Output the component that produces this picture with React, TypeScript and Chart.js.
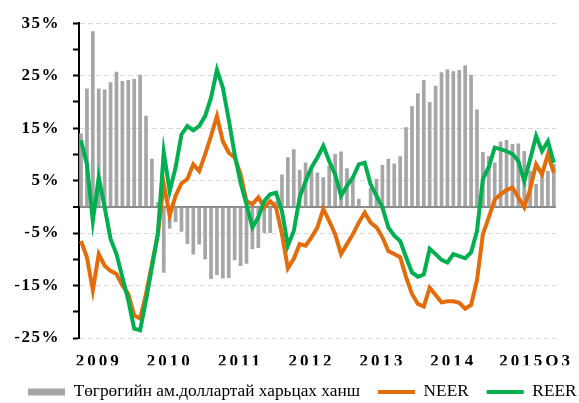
import React, { useEffect, useRef } from 'react';
import { Chart, registerables } from 'chart.js';

Chart.register(...registerables);

// Monthly observations: 2009-01 .. 2015-09
const MONTHS: string[] = [];
for (let y = 2009; y <= 2015; y++) {
  for (let m = 1; m <= 12; m++) {
    if (y === 2015 && m > 9) break;
    MONTHS.push(`${y}-${String(m).padStart(2, '0')}`);
  }
}

// Төгрөгийн ам.доллартай харьцах ханш (y/y, %)
const MNT_USD = [
  13.9, 22.5, 33.4, 22.5, 22.3, 23.7, 25.7, 23.9, 24.1, 24.3, 25.1, 17.3,
  9.1, 0.8, -12.5, -4.1, -2.8, -4.7, -7.0, -9.0, -7.1, -9.9, -13.7, -12.9,
  -13.6, -13.5, -10.1, -11.2, -10.8, -8.0, -7.8, -4.9, -4.9, 1.0, 6.1, 9.4,
  10.9, 7.0, 8.4, 7.3, 6.5, 5.6, 7.8, 10.0, 10.5, 7.3, 5.4, 1.5,
  0, 3.5, 5.3, 7.9, 9.1, 8.2, 9.6, 15.1, 19.1, 21.6, 24.1, 19.9,
  23.0, 25.6, 26.1, 25.8, 26.0, 26.9, 25.1, 18.5, 10.4, 9.6, 8.4, 12.4,
  12.7, 11.9, 12.0, 10.6, 6.8, 4.3, 6.3, 6.8, 8.1,
];

const NEER = [
  -6.5, -9.6, -15.9, -9.0, -11.2, -12.2, -12.8, -15.0, -16.6, -20.7, -21.3, -16.6,
  -10.9, -5.2, 4.4, -1.6, 2.1, 4.5, 5.3, 8.1, 6.8, 10.0, 13.5, 17.3,
  12.5, 10.3, 9.4, 6.2, 1.1, 0.5, 1.8, -0.1, 1.1, -0.1, -5.2, -11.7,
  -9.9, -7.1, -7.4, -5.8, -3.9, -0.4, -2.7, -5.2, -9.0, -7.1, -5.2, -3.0,
  -1.1, -3.0, -3.9, -5.8, -8.4, -9.0, -9.6, -13.4, -16.6, -18.5, -19.0, -15.4,
  -16.8, -18.2, -18.0, -18.0, -18.3, -19.4, -18.7, -14.0, -5.2, -2.0, 1.4, 2.4,
  3.2, 3.7, 1.8, -0.1, 3.4, 8.1, 6.2, 10.0, 6.5,
];

const REER = [
  12.7, 8.1, -2.7, 5.6, -0.1, -6.1, -9.0, -13.4, -17.8, -23.2, -23.5, -17.8,
  -11.5, -5.2, 10.4, 3.0, 7.5, 13.8, 15.4, 14.6, 15.4, 17.3, 20.8, 26.1,
  22.7, 16.6, 10.0, 4.6, 0.5, -3.9, -2.0, 1.1, 2.4, 2.7, -0.8, -7.4,
  -4.6, 1.8, 4.9, 7.5, 9.4, 11.6, 8.7, 6.2, 2.1, 4.0, 5.6, 8.1,
  8.4, 4.3, 2.1, -0.1, -3.9, -5.5, -6.5, -9.6, -12.5, -13.3, -12.9, -8.0,
  -9.0, -10.1, -10.6, -9.0, -9.4, -9.8, -8.7, -4.6, 5.3, 7.6, 11.3, 11.0,
  10.6, 10.1, 8.7, 4.9, 9.1, 13.5, 10.6, 12.5, 8.4,
];

const YEAR_TICK_POS = [3, 15, 27, 39, 51, 63, 77];
const YEAR_LABELS = ['2009', '2010', '2011', '2012', '2013', '2014', '2015Q3'];
const Y_LABELED = [35, 25, 15, 5, -5, -15, -25];

const SERIES_NAMES = ['Төгрөгийн ам.доллартай харьцах ханш', 'NEER', 'REER'];

const FONT = '"Liberation Serif", "Times New Roman", serif';

const spacingPlugin = {
  id: 'labelSpacing',
  afterUpdate(chart: any) {
    const cfg: [string, string][] = [['x', '3px'], ['y', '1.5px']];
    for (const [id, sp] of cfg) {
      const s = chart.scales[id];
      if (s && !s.__spaced) {
        const orig = s.drawLabels.bind(s);
        s.drawLabels = (area: any) => {
          const c = s.ctx;
          const prev = c.letterSpacing;
          c.letterSpacing = sp;
          orig(area);
          c.letterSpacing = prev || '0px';
        };
        s.__spaced = true;
      }
    }
  },
};

export default function App() {
  const ref = useRef<HTMLCanvasElement>(null);

  useEffect(() => {
    const canvas = ref.current;
    if (!canvas) return;
    const toXY = (arr: number[]) => MONTHS.map((_, i) => ({ x: i, y: arr[i] }));

    const chart = new Chart(canvas, {
      type: 'bar',
      data: {
        datasets: [
          {
            type: 'bar',
            label: SERIES_NAMES[0],
            data: toXY(MNT_USD),
            backgroundColor: '#a6a6a6',
            borderWidth: 0,
            barThickness: 3,
            order: 2,
          } as any,
          {
            type: 'line',
            label: SERIES_NAMES[1],
            data: toXY(NEER),
            borderColor: '#e46c0a',
            backgroundColor: '#e46c0a',
            borderWidth: 4,
            pointRadius: 0,
            tension: 0,
            order: 1,
          } as any,
          {
            type: 'line',
            label: SERIES_NAMES[2],
            data: toXY(REER),
            borderColor: '#00b050',
            backgroundColor: '#00b050',
            borderWidth: 4,
            pointRadius: 0,
            tension: 0,
            order: 0,
          } as any,
        ],
      },
      options: {
        responsive: false,
        animation: false,
        layout: { padding: { left: 10, top: 22, right: -30, bottom: -7.6 } },
        plugins: {
          tooltip: { enabled: false },
          legend: {
            position: 'bottom',
            align: 'start',
            labels: {
              usePointStyle: true,
              pointStyleWidth: 37,
              boxHeight: 7,
              padding: 18,
              color: '#000',
              font: { family: FONT, size: 17.3 },
              sort: (a: any, b: any) => a.datasetIndex - b.datasetIndex,
              generateLabels: (ch: any) => {
                const items = (Chart as any).defaults.plugins.legend.labels.generateLabels(ch);
                return items.map((it: any) => ({
                  ...it,
                  pointStyle: it.datasetIndex === 0 ? 'rect' : 'line',
                  lineWidth: it.datasetIndex === 0 ? 0 : 4,
                }));
              },
            },
          },
        },
        scales: {
          x: {
            type: 'linear',
            min: -0.34,
            max: 80.37,
            offset: false,
            afterBuildTicks: (s: any) => {
              s.ticks = YEAR_TICK_POS.map((v) => ({ value: v }));
            },
            afterFit: (s: any) => {
              s.height = 27.25;
            },
            ticks: {
              autoSkip: false,
              maxRotation: 0,
              padding: 13,
              color: '#000',
              font: { family: FONT, size: 17, weight: 'bold' },
              callback: (v: any) => {
                const k = YEAR_TICK_POS.indexOf(Number(v));
                return k >= 0 ? YEAR_LABELS[k] : '';
              },
            },
            grid: { display: false, drawTicks: false, offset: false },
            border: { display: false },
          },
          y: {
            type: 'linear',
            position: 'left',
            min: -25,
            max: 35,
            afterFit: (s: any) => {
              s.width = 69;
            },
            ticks: {
              stepSize: 5,
              autoSkip: false,
              padding: 13,
              color: '#000',
              font: { family: FONT, size: 17, weight: 'bold' },
              callback: (v: any) => (Y_LABELED.includes(Number(v)) ? `${v}%` : ''),
            },
            grid: {
              color: (c: any) => {
                const v = c.tick ? c.tick.value : null;
                if (v === 0) return '#888888';
                if (v !== null && Y_LABELED.includes(v)) return '#d9d9d9';
                return 'rgba(0,0,0,0)';
              },
              lineWidth: (c: any) => (c.tick && c.tick.value === 0 ? 2 : 1),
              drawTicks: true,
              tickLength: 6,
              tickWidth: 2,
              tickColor: '#000',
            },
            border: {
              display: true,
              color: '#000',
              width: 2,
              dash: (c: any) => (c.tick && c.tick.value !== 0 ? [5, 3] : []),
            },
          },
          y2: {
            type: 'linear',
            position: 'right',
            display: true,
            min: 0,
            max: 1,
            ticks: { display: false },
            grid: { display: false, drawTicks: false },
            border: { display: false },
            afterFit: (s: any) => {
              s.width = 53;
            },
          },
        },
      } as any,
      plugins: [spacingPlugin],
    });
    chart.draw();

    return () => chart.destroy();
  }, []);

  return (
    <div style={{ position: 'absolute', left: 0, top: 0, width: 579, height: 403, background: '#fff' }}>
      <canvas ref={ref} width={579} height={403} style={{ display: 'block' }} />
    </div>
  );
}
